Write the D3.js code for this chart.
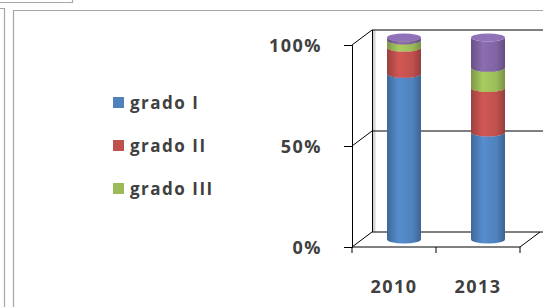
<!DOCTYPE html>
<html>
<head>
<meta charset="utf-8">
<script src="https://cdn.jsdelivr.net/npm/d3@7"></script>
<style>
  body { margin: 0; background: #fff; }
  text { font-family: "Open Sans", sans-serif; fill: #404040; }
</style>
</head>
<body>
<div id="chart"></div>
<script>
//chart data
var years = ["2010", "2013"];
var seriesNames = ["grado I", "grado II", "grado III", "grado IV"];
var gradoI = [0.82, 0.53];
var gradoII = [0.13, 0.22];
var gradoIII = [0.035, 0.10];
var gradoIV = [0.015, 0.15];
var yTicks = [0, 0.5, 1];
var colors = ["#4F81BD", "#C0504D", "#9BBB59", "#8064A2"];
var legendNames = seriesNames.slice(0, 3);

var width = 543, height = 307;
var depth = { x: 20, y: -15 };

var svg = d3.select("#chart").append("svg")
  .attr("width", width)
  .attr("height", height);

//outer frame lines
var frame = svg.append("g").attr("stroke", "#a6a6a6").attr("fill", "none").attr("stroke-width", 1.2);
frame.append("path").attr("d", "M0,2.5H72.5V-1");
frame.append("path").attr("d", "M0,8.5H4.5V307");
frame.append("path").attr("d", "M13.5,307V10.5H543");

//scales (front plane)
var x = d3.scaleBand().domain(years).range([352, 520]);
var y = d3.scaleLinear().domain([0, 1]).range([247, 45]);

var plot = svg.append("g");

//walls
var walls = plot.append("g").attr("stroke", "#000").attr("stroke-width", 1).attr("fill", "none");
walls.append("path")
  .attr("d", "M" + (352 + depth.x + 2) + "," + (y(1) + depth.y) + "V" + (y(0) + depth.y))
  .attr("stroke", "#d4d4d4").attr("stroke-width", 3);
walls.append("line")
  .attr("x1", 352 + depth.x + 0.5).attr("x2", 352 + depth.x + 0.5)
  .attr("y1", y(1) + depth.y).attr("y2", y(0) + depth.y);
yTicks.forEach(function(t){
  walls.append("line")
    .attr("x1", 352).attr("y1", y(t))
    .attr("x2", 352 + depth.x).attr("y2", y(t) + depth.y);
  walls.append("line")
    .attr("x1", 352 + depth.x).attr("y1", y(t) + depth.y)
    .attr("x2", width).attr("y2", y(t) + depth.y);
});
//floor edge
walls.append("line")
  .attr("x1", 520).attr("y1", y(0))
  .attr("x2", 520 + depth.x).attr("y2", y(0) + depth.y);

//gradients for the cylinders
var defs = svg.append("defs");
colors.forEach(function(c, i){
  var g = defs.append("linearGradient").attr("id", "cyl" + i)
    .attr("x1", "0%").attr("x2", "100%").attr("y1", "0%").attr("y2", "0%");
  var base = d3.color(c);
  g.append("stop").attr("offset", "0%").attr("stop-color", base.darker(0.6));
  g.append("stop").attr("offset", "35%").attr("stop-color", base.brighter(0.25));
  g.append("stop").attr("offset", "75%").attr("stop-color", base);
  g.append("stop").attr("offset", "100%").attr("stop-color", base.darker(0.7));
});

//stack the series
var table = years.map(function(yr, i){
  return { year: yr, s0: gradoI[i], s1: gradoII[i], s2: gradoIII[i], s3: gradoIV[i] };
});
var stacked = d3.stack().keys(["s0", "s1", "s2", "s3"])(table);

var barW = 34, rx = barW / 2, ry = 4;
var mid = { x: depth.x / 2, y: depth.y / 2 };

var bars = plot.append("g");
years.forEach(function(yr, j){
  var cx = x(yr) + x.bandwidth() / 2 + mid.x;
  var x0 = cx - rx, x1 = cx + rx;
  stacked.forEach(function(layer, i){
    var d = layer[j];
    var yb = y(d[0]) + mid.y, yt = y(d[1]) + mid.y;
    bars.append("path")
      .attr("d", "M" + x0 + "," + yb +
        "A" + rx + "," + ry + " 0 0 0 " + x1 + "," + yb +
        "V" + yt +
        "A" + rx + "," + ry + " 0 0 1 " + x0 + "," + yt + "Z")
      .attr("fill", "url(#cyl" + i + ")");
    bars.append("ellipse")
      .attr("cx", cx).attr("cy", yt)
      .attr("rx", rx).attr("ry", ry)
      .attr("fill", d3.color(colors[i]).brighter(0.35));
  });
});

//front axis
var axisY = plot.append("g")
  .attr("transform", "translate(352,0)")
  .call(d3.axisLeft(y).tickValues(yTicks).tickFormat(d3.format(".0%")).tickSize(8).tickPadding(22));
axisY.selectAll("text")
  .style("font-size", "18px").style("font-weight", "700").style("letter-spacing", "1.5px")
  .attr("dy", "0.38em")
  .attr("fill", "#454545");
axisY.select(".domain").attr("stroke", "#000");

var axisX = plot.append("g")
  .attr("transform", "translate(0," + y(0) + ")")
  .call(d3.axisBottom(x).tickSize(0).tickPadding(33));
axisX.selectAll("text")
  .style("font-size", "18px").style("font-weight", "700").style("letter-spacing", "1.5px")
  .attr("fill", "#454545");
axisX.select(".domain").attr("stroke", "#000").attr("d", "M352,0H520");
//category tick marks
var bounds = [352, x("2013"), 520];
bounds.forEach(function(b){
  axisX.append("line").attr("x1", b).attr("x2", b).attr("y1", 0).attr("y2", 6).attr("stroke", "#000");
});

//legend
var legend = svg.append("g").attr("transform", "translate(113,97)");
legendNames.forEach(function(n, i){
  var row = legend.append("g").attr("transform", "translate(0," + (i * 43) + ")");
  row.append("rect").attr("width", 11).attr("height", 11).attr("fill", colors[i]);
  row.append("text").attr("x", 17).attr("y", 12)
    .style("font-size", "17px").style("font-weight", "700").style("letter-spacing", "1.5px")
    .attr("fill", "#454545")
    .text(n);
});
</script>
</body>
</html>
